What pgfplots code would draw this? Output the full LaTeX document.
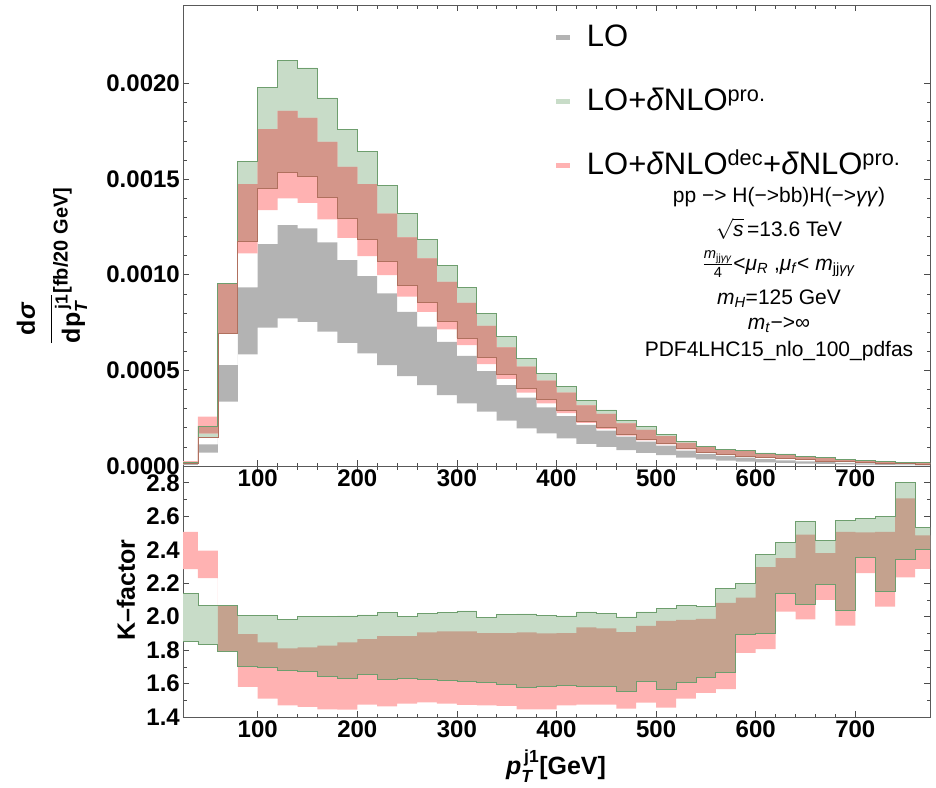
\documentclass[border=0pt]{standalone}
\usepackage{fontspec}
\setmainfont{Liberation Sans}
\usepackage{amsmath}
\usepackage{pgfplots}
\usepackage{pgfplotstable}
\pgfplotsset{compat=1.18}
\usepgfplotslibrary{fillbetween}

\definecolor{cgray}{HTML}{B3B3B3}
\definecolor{cgreen}{HTML}{C8DCC8}
\definecolor{cpink}{HTML}{FFB2B2}
\definecolor{covtop}{HTML}{D4968A}
\definecolor{covbot}{HTML}{C4A28E}
\definecolor{cgline}{HTML}{6E9E6E}
\definecolor{crline}{HTML}{B0705E}

% bin left edge, LO band, LO+dNLO(pro) band, LO+dNLO(dec)+dNLO(pro) band
\pgfplotstableread{
x   gylo       gyhi       glo        ghi        rlo        rhi
20  0.0000060  0.0000110  0.0000128  0.0000204  0.0000137  0.0000251
40  0.0000696  0.000113   0.000148   0.000209   0.000171   0.000258
60  0.000336   0.000528   0.000693   0.000955   0.000693   0.000955
80  0.000584   0.000934   0.001177   0.00159    0.001111   0.001473
100 0.000723   0.00116    0.001451   0.001977   0.001338   0.001761
120 0.000772   0.001259   0.001538   0.00212    0.001399   0.001857
140 0.000754   0.001242   0.001517   0.002081   0.001376   0.00182
160 0.000702   0.001169   0.001407   0.001924   0.001289   0.001695
180 0.000644   0.001076   0.001297   0.001761   0.001193   0.001564
200 0.000589   0.000993   0.001184   0.001646   0.001097   0.001473
220 0.000528   0.000902   0.001071   0.001468   0.000998   0.00132
240 0.00047    0.000806   0.000946   0.00132    0.000885   0.001195
260 0.000423   0.000728   0.000855   0.001186   0.000806   0.001085
280 0.000371   0.000649   0.000759   0.00105    0.000714   0.000963
300 0.000327   0.000576   0.00067    0.000934   0.000632   0.000853
320 0.000284   0.000496   0.000566   0.000798   0.000533   0.000732
340 0.000237   0.000423   0.000481   0.000676   0.000455   0.00062
360 0.000197   0.000357   0.000406   0.000563   0.000383   0.000519
380 0.000171   0.000307   0.000348   0.000484   0.000327   0.000446
400 0.000145   0.000261   0.000291   0.000415   0.000276   0.000384
420 0.000116   0.000215   0.000235   0.000341   0.000225   0.000317
440 0.0001     0.000185   0.000202   0.000293   0.000193   0.000273
460 0.0000835  0.000154   0.000167   0.00024    0.000159   0.000223
480 0.000069   0.000127   0.00014    0.000205   0.000134   0.000189
500 0.0000575  0.000107   0.000118   0.000167   0.000113   0.000156
520 0.000044   0.00008    0.000091   0.000129   0.000087   0.000121
540 0.0000345  0.0000639  0.0000711  0.0001045  0.0000685  0.0000987
560 0.0000285  0.000053   0.0000618  0.0000882  0.0000593  0.000083
580 0.0000235  0.0000441  0.0000516  0.0000835  0.0000497  0.0000786
600 0.0000193  0.000036   0.0000458  0.0000684  0.0000443  0.000065
620 0.0000158  0.0000295  0.0000386  0.0000631  0.0000371  0.0000599
640 0.000013   0.0000242  0.0000334  0.0000502  0.0000324  0.000048
660 0.0000106  0.0000198  0.000026   0.0000434  0.0000252  0.0000416
680 0.0000087  0.0000162  0.0000224  0.000033   0.0000218  0.0000315
700 0.0000071  0.0000133  0.0000183  0.0000313  0.0000178  0.0000301
720 0.0000058  0.0000109  0.0000151  0.0000234  0.0000145  0.0000225
740 0.0000048  0.0000089  0.0000135  0.0000208  0.000013   0.0000199
760 0.0000039  0.0000073  0.0000099  0.0000175  0.0000097  0.0000167
780 0.0000039  0.0000073  0.0000099  0.0000175  0.0000097  0.0000167
}\topdata

% K-factor bands
\pgfplotstableread{
x   glo    ghi    rlo    rhi
20  1.85   2.14   2.284  2.506
40  1.834  2.064  2.23   2.394
60  1.79   2.064  1.79   2.064
80  1.704  2.006  1.58   1.896
100 1.696  2.006  1.51   1.846
120 1.68   1.984  1.47   1.81
140 1.674  2.0    1.46   1.816
160 1.644  2.0    1.446  1.826
180 1.628  2.004  1.444  1.846
200 1.652  2.01   1.474  1.866
220 1.626  2.024  1.464  1.884
240 1.628  2.0    1.48   1.884
260 1.626  2.02   1.488  1.906
280 1.616  2.024  1.48   1.912
300 1.61   2.034  1.472  1.912
320 1.604  1.996  1.47   1.902
340 1.596  2.014  1.466  1.902
360 1.576  2.016  1.446  1.906
380 1.58   2.008  1.446  1.9
400 1.59   2.004  1.47   1.902
420 1.584  2.028  1.474  1.936
440 1.58   2.02   1.474  1.93
460 1.554  1.998  1.45   1.908
480 1.61   2.028  1.486  1.944
500 1.566  2.05   1.456  1.974
520 1.608  2.068  1.51   1.98
540 1.636  2.06   1.544  1.986
560 1.664  2.17   1.566  2.082
580 1.894  2.196  1.784  2.114
600 1.9    2.374  1.806  2.296
620 2.14   2.444  2.03   2.35
640 2.074  2.566  1.984  2.49
660 2.194  2.456  2.1    2.38
680 2.04   2.576  1.946  2.506
700 2.354  2.584  2.26   2.504
720 2.15   2.6    2.06   2.506
740 2.34   2.804  2.234  2.706
760 2.4    2.534  2.286  2.486
780 2.4    2.534  2.286  2.486
}\kdata

\pgfplotsset{
  panel/.style={
    scale only axis, width=747pt,
    xmin=25, xmax=775,
    axis line style={black!65, line width=0.6pt},
    tick style={black!70, line width=0.5pt},
    tick align=inside, major tick length=6pt, minor tick length=3.5pt,
    xtick={100,200,300,400,500,600,700}, minor x tick num=4,
    xtick pos=both, ytick pos=both,
    xticklabel pos=lower, yticklabel pos=left,
    ticklabel style={font=\fontsize{24}{28}\selectfont\bfseries},
    yticklabel style={inner xsep=3pt},
    /pgf/number format/assume math mode=true,
  },
}

\begin{document}
\begin{tikzpicture}

\begin{axis}[panel, at={(183pt,-5pt)}, anchor=north west, height=461pt,
  ymin=0, ymax=0.00241,
  ytick={0,0.0005,0.001,0.0015,0.002}, minor y tick num=4,
  scaled y ticks=false,
  yticklabel style={/pgf/number format/.cd, fixed, fixed zerofill, precision=4},
  legend image code/.code={\fill[#1] (0pt,-2pt) rectangle (14pt,3pt);},
  legend style={at={(rel axis cs:0.495,0.965)}, anchor=north west,
    draw=none, fill=none, font=\fontsize{31}{36}\selectfont,
    cells={anchor=west}, row sep=34pt,
    nodes={inner sep=0pt, text height=23pt, text depth=7pt},
    /tikz/every odd column/.append style={column sep=17pt}},
]
\addplot[name path=tyl, draw=none, const plot, forget plot] table[x=x, y=gylo] {\topdata};
\addplot[name path=tyh, draw=none, const plot, forget plot] table[x=x, y=gyhi] {\topdata};
\addplot[name path=tgl, draw=none, const plot, forget plot] table[x=x, y=glo] {\topdata};
\addplot[name path=tgh, draw=none, const plot, forget plot] table[x=x, y=ghi] {\topdata};
\addplot[name path=trl, draw=none, const plot, forget plot] table[x=x, y=rlo] {\topdata};
\addplot[name path=trh, draw=none, const plot, forget plot] table[x=x, y=rhi] {\topdata};
% overlap of the two NLO bands
\addplot[name path=tol1, draw=none, const plot, forget plot, restrict x to domain=20:60] table[x=x, y=rlo] {\topdata};
\addplot[name path=toh1, draw=none, const plot, forget plot, restrict x to domain=20:60] table[x=x, y=ghi] {\topdata};
\addplot[name path=tol2, draw=none, const plot, forget plot, restrict x to domain=60:780] table[x=x, y=glo] {\topdata};
\addplot[name path=toh2, draw=none, const plot, forget plot, restrict x to domain=60:780] table[x=x, y=rhi] {\topdata};
\addplot[fill=cgray, draw=none, forget plot] fill between[of=tyl and tyh];
\addplot[fill=cgreen, draw=none, forget plot] fill between[of=tgl and tgh];
\addplot[fill=cpink, draw=none, forget plot] fill between[of=trl and trh];
\addplot[fill=covtop, draw=none, forget plot] fill between[of=tol1 and toh1];
\addplot[fill=covtop, draw=none, forget plot] fill between[of=tol2 and toh2];
\addplot[const plot, cgline, line width=0.8pt, forget plot] table[x=x, y=ghi] {\topdata};
\addplot[const plot, crline, line width=0.6pt, forget plot] table[x=x, y=glo] {\topdata};

\addlegendimage{fill=cgray, draw=none}
\addlegendentry{LO}
\addlegendimage{fill=cgreen, draw=none}
\addlegendentry{LO+\textit{δ}NLO\textsuperscript{pro.}}
\addlegendimage{fill=cpink, draw=none}
\addlegendentry{LO+\textit{δ}NLO\textsuperscript{dec}+\textit{δ}NLO\textsuperscript{pro.}}
\end{axis}

\begin{axis}[panel, at={(183pt,-466pt)}, anchor=north west, height=251pt,
  ymin=1.4, ymax=2.9,
  ytick={1.4,1.6,1.8,2.0,2.2,2.4,2.6,2.8}, minor y tick num=1,
  yticklabel style={/pgf/number format/.cd, fixed, fixed zerofill, precision=1},
]
\addplot[name path=kgl, draw=none, const plot] table[x=x, y=glo] {\kdata};
\addplot[name path=kgh, draw=none, const plot] table[x=x, y=ghi] {\kdata};
\addplot[name path=krl, draw=none, const plot] table[x=x, y=rlo] {\kdata};
\addplot[name path=krh, draw=none, const plot] table[x=x, y=rhi] {\kdata};
\addplot[name path=kol, draw=none, const plot, restrict x to domain=60:780] table[x=x, y=glo] {\kdata};
\addplot[name path=koh, draw=none, const plot, restrict x to domain=60:780] table[x=x, y=rhi] {\kdata};
\addplot[fill=cpink, draw=none] fill between[of=krl and krh];
\addplot[fill=cgreen, draw=none] fill between[of=kgl and kgh];
\addplot[fill=covbot, draw=none] fill between[of=kol and koh];
\addplot[const plot, cgline, line width=0.8pt] table[x=x, y=ghi] {\kdata};
\addplot[const plot, cgline, line width=0.8pt] table[x=x, y=glo] {\kdata};
\end{axis}

% axis titles
\node[rotate=90, font=\fontsize{25}{30}\selectfont\bfseries] at (52pt,-266pt)
  {$\dfrac{\text{d\textit{σ}}\rule[-13pt]{0pt}{0pt}}{\text{dp}_{\text{\textit{T}}}^{\,\text{j1}}}$\raisebox{-10pt}{\fontsize{20}{24}\selectfont[fb/20 GeV]}};
\node[rotate=90, font=\fontsize{25}{30}\selectfont\bfseries] at (126pt,-590pt) {K\textendash factor};
\node[font=\fontsize{25}{30}\selectfont\bfseries] at (556pt,-766pt)
  {$\text{\textit{p}}_{\text{\textit{T}}}^{\,\text{j1}}$[GeV]};

% process information
\begin{scope}[every node/.style={anchor=base, font=\fontsize{21}{25}\selectfont}]
\node at (779pt,-202pt) {pp −> H(−>bb)H(−>\textit{γγ})};
\node at (779pt,-236pt) {$\sqrt{\text{\textit{s}}}$\,=13.6 TeV};
\node at (779pt,-270pt) {$\frac{\text{\textit{m}\textsubscript{jj\textit{γγ}}}}{\text{4}}$<\textit{μ}\textsubscript{\textit{R}} ,\textit{μ}\textsubscript{\textit{f}}< \textit{m}\textsubscript{jj\textit{γγ}}};
\node at (779pt,-304pt) {\textit{m}\textsubscript{\textit{H}}=125 GeV};
\node at (779pt,-329pt) {\textit{m}\textsubscript{\textit{t}}−>∞};
\node at (779pt,-356pt) {PDF4LHC15\_nlo\_100\_pdfas};
\end{scope}

\pgfresetboundingbox
\useasboundingbox (0pt,0pt) rectangle (936pt,-787pt);
\end{tikzpicture}
\end{document}
